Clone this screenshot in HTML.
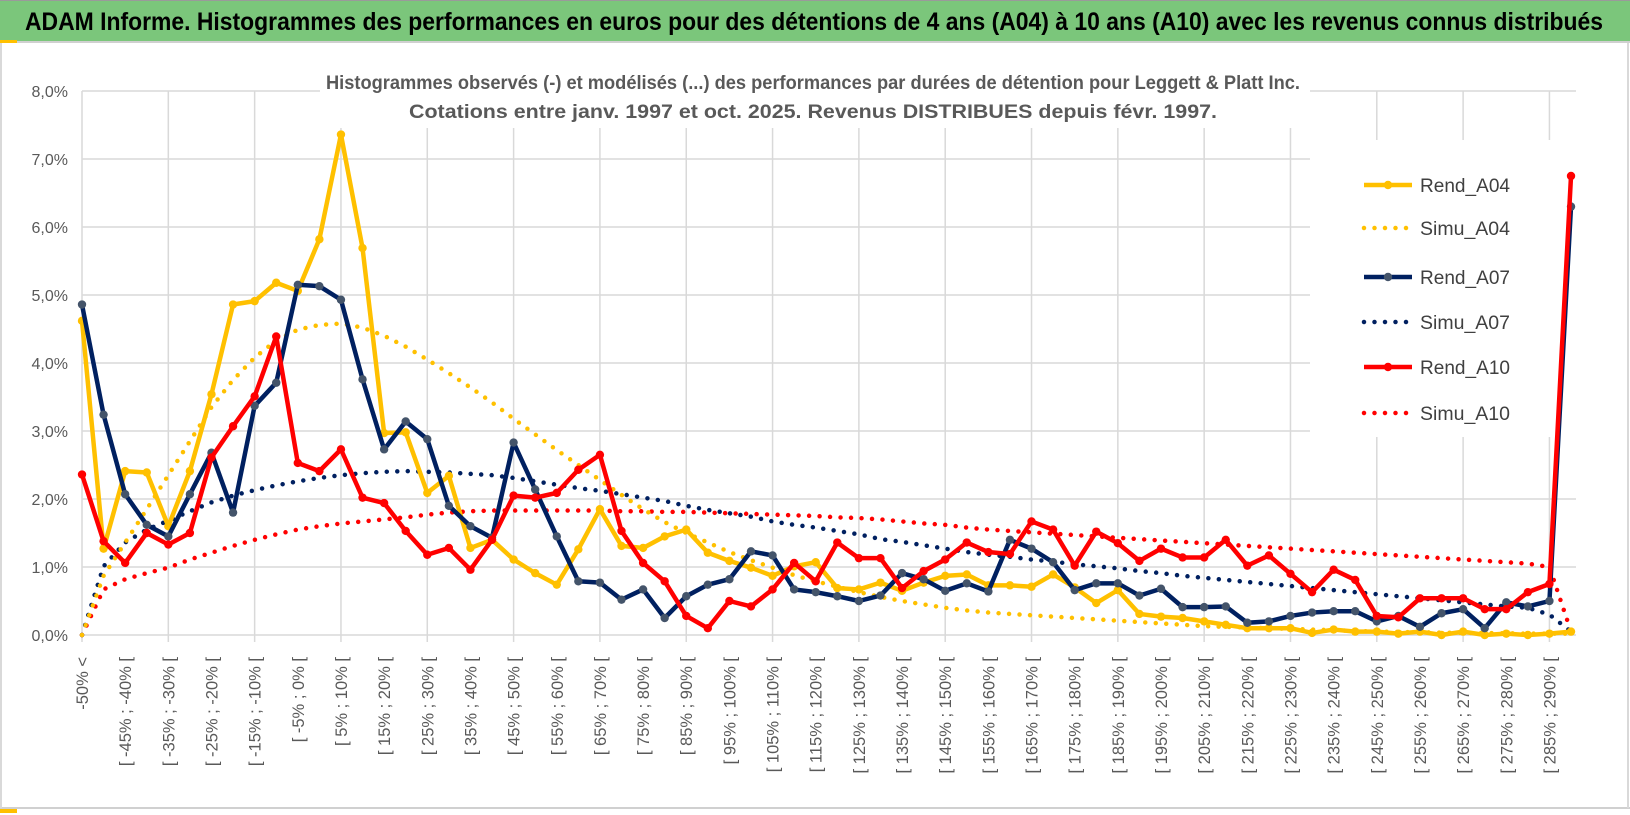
<!DOCTYPE html>
<html><head><meta charset="utf-8"><style>
html,body{margin:0;padding:0;background:#fff;}
svg{display:block;font-family:"Liberation Sans",sans-serif;}
</style></head><body>
<svg id="chart" width="1630" height="815" viewBox="0 0 1630 815" xmlns="http://www.w3.org/2000/svg">
<rect x="0" y="0" width="1630" height="815" fill="#fff"/>
<rect x="0" y="0" width="1630" height="41" fill="#7bc67b"/>
<line x1="0" y1="0.5" x2="1630" y2="0.5" stroke="#9a9a9a"/>
<line x1="0" y1="42" x2="1630" y2="42" stroke="#d0d0d0" stroke-width="2"/>
<rect x="0" y="40" width="17" height="3" fill="#ffc000"/>
<rect x="0" y="808" width="17" height="5" fill="#ffc000"/>
<line x1="0" y1="808" x2="1630" y2="808" stroke="#d0d0d0" stroke-width="2"/>
<line x1="1" y1="43" x2="1" y2="808" stroke="#d9d9d9" stroke-width="2"/>
<line x1="1628" y1="43" x2="1628" y2="808" stroke="#d9d9d9" stroke-width="2"/>
<text x="25" y="30" font-size="25" font-weight="bold" fill="#000" textLength="1578" lengthAdjust="spacingAndGlyphs">ADAM Informe. Histogrammes des performances en euros pour des détentions de 4 ans (A04) à 10 ans (A10) avec les revenus connus distribués</text>
<g id="grid"></g>
<rect x="320" y="55" width="990" height="73" fill="#fff"/>
<rect x="1310" y="140" width="300" height="297" fill="#fff"/>
<text x="813" y="89" font-size="19" font-weight="bold" fill="#595959" text-anchor="middle" textLength="974" lengthAdjust="spacingAndGlyphs">Histogrammes observés (-) et modélisés (...) des performances par durées de détention pour Leggett &amp; Platt Inc.</text>
<text x="813" y="118" font-size="19" font-weight="bold" fill="#595959" text-anchor="middle" textLength="808" lengthAdjust="spacingAndGlyphs">Cotations entre janv. 1997 et oct. 2025. Revenus DISTRIBUES depuis févr. 1997.</text>
<g id="axes"></g>
<g id="series"></g>
<g id="legend"></g>
</svg>
<script>
const categories = ["-50% <"];
for (let k = 1; k < 70; k++) { categories.push("[ " + (-55 + 5 * k) + "% ; " + (-50 + 5 * k) + "% ["); }
const yTicks = [0,1,2,3,4,5,6,7,8];
const yTickLabels = ["0,0%","1,0%","2,0%","3,0%","4,0%","5,0%","6,0%","7,0%","8,0%"];
const rendA04 = [4.62,1.27,2.41,2.39,1.60,2.41,3.54,4.86,4.91,5.18,5.06,5.82,7.36,5.69,2.97,2.98,2.09,2.34,1.28,1.40,
1.11,0.91,0.74,1.26,1.85,1.31,1.28,1.45,1.55,1.21,1.09,0.99,0.87,1.01,1.07,0.69,0.67,0.77,0.65,0.77,0.87,0.89,
0.73,0.73,0.71,0.89,0.70,0.47,0.66,0.31,0.27,0.25,0.2,0.15,0.1,0.1,0.1,0.03,0.08,0.05,0.05,0.02,0.05,0.0,0.05,0.0,0.02,0.0,0.02,0.05];
const rendA07 = [4.86,3.24,2.07,1.62,1.45,2.07,2.68,1.80,3.37,3.71,5.15,5.13,4.93,3.76,2.73,3.14,2.88,1.90,1.60,1.43,
2.83,2.14,1.45,0.79,0.77,0.52,0.67,0.25,0.57,0.74,0.82,1.23,1.17,0.67,0.63,0.57,0.50,0.58,0.91,0.82,0.65,0.76,
0.64,1.40,1.27,1.07,0.66,0.76,0.76,0.58,0.68,0.41,0.41,0.42,0.18,0.2,0.28,0.33,0.35,0.35,0.2,0.28,0.12,0.32,0.38,0.1,0.48,0.42,0.5,6.3];
const rendA10 = [2.36,1.38,1.06,1.50,1.33,1.50,2.61,3.07,3.51,4.39,2.53,2.41,2.73,2.02,1.94,1.53,1.18,1.28,0.96,1.40,
2.05,2.02,2.09,2.43,2.65,1.53,1.06,0.79,0.28,0.10,0.50,0.42,0.67,1.06,0.79,1.36,1.13,1.13,0.69,0.94,1.11,1.36,
1.22,1.19,1.67,1.55,1.02,1.52,1.35,1.09,1.27,1.14,1.14,1.40,1.02,1.17,0.90,0.63,0.96,0.81,0.28,0.26,0.54,0.54,0.54,0.38,0.38,0.63,0.75,6.75];
const simuA04 = [0,0.87,1.36,1.85,2.35,2.85,3.35,3.75,4.08,4.33,4.49,4.56,4.58,4.52,4.40,4.24,4.05,3.85,3.64,3.42,
3.18,2.95,2.72,2.50,2.28,2.06,1.85,1.66,1.50,1.36,1.22,1.10,0.99,0.88,0.79,0.71,0.63,0.56,0.50,0.45,0.40,0.36,
0.33,0.31,0.29,0.27,0.25,0.23,0.21,0.19,0.17,0.15,0.13,0.12,0.11,0.10,0.09,0.08,0.07,0.06,0.05,0.045,0.04,0.035,0.03,0.03,0.025,0.02,0.02,0.02];
const simuA07 = [0,1.01,1.36,1.55,1.68,1.82,1.95,2.05,2.13,2.20,2.26,2.31,2.35,2.38,2.40,2.41,2.40,2.39,2.37,2.35,
2.31,2.26,2.21,2.16,2.12,2.07,2.02,1.97,1.90,1.84,1.79,1.74,1.67,1.62,1.58,1.53,1.48,1.41,1.37,1.32,1.27,1.22,
1.18,1.15,1.11,1.08,1.04,1.01,0.98,0.94,0.91,0.87,0.84,0.81,0.78,0.75,0.72,0.69,0.66,0.63,0.60,0.57,0.54,0.51,0.48,0.45,0.42,0.40,0.30,0.05];
const simuA10 = [0,0.67,0.82,0.91,0.99,1.11,1.21,1.31,1.40,1.48,1.55,1.60,1.64,1.67,1.70,1.73,1.77,1.80,1.82,1.83,
1.83,1.83,1.83,1.83,1.83,1.82,1.82,1.81,1.81,1.80,1.79,1.78,1.77,1.76,1.75,1.73,1.72,1.70,1.67,1.64,1.62,1.58,
1.55,1.53,1.51,1.49,1.47,1.45,1.43,1.41,1.39,1.37,1.35,1.33,1.31,1.29,1.27,1.25,1.23,1.21,1.19,1.17,1.15,1.13,1.11,1.09,1.07,1.05,1.00,0.05];
const seriesNames = ["Rend_A04","Simu_A04","Rend_A07","Simu_A07","Rend_A10","Simu_A10"];

const NS = "http://www.w3.org/2000/svg";
const X0 = 82, STEP = 21.58, Y0 = 635, PPU = 68, XR = 1576;
function xs(i){ return X0 + STEP * i; }
function ys(v){ return Y0 - PPU * v; }
function mk(tag, attrs, parent){ const e = document.createElementNS(NS, tag); for (const k in attrs) e.setAttribute(k, attrs[k]); parent.appendChild(e); return e; }

const grid = document.getElementById("grid");
yTicks.forEach(function(t){
  const l = mk("line", {x1: X0, x2: XR, y1: ys(t), y2: ys(t), stroke: "#d9d9d9", "stroke-width": 1.5}, grid);
  
  
});
for (let i = 0; i < categories.length; i += 4) {
  const l = mk("line", {x1: xs(i), x2: xs(i), y1: ys(8), y2: Y0 + 7, stroke: "#d9d9d9", "stroke-width": 1.5}, grid);
  
  
}

const axes = document.getElementById("axes");
yTicks.forEach(function(t, k){
  const tx = mk("text", {x: 68, y: ys(t) + 6, "font-size": 16, fill: "#595959", "text-anchor": "end"}, axes);
  tx.textContent = yTickLabels[k];
  
  
});
for (let i = 0; i < categories.length; i += 2) {
  const tx = mk("text", {x: 0, y: 0, "font-size": 16.5, fill: "#595959", "text-anchor": "end",
    transform: "translate(" + (xs(i) + 6) + ",657) rotate(-90)"}, axes);
  tx.textContent = categories[i];
  
  
}

const seriesG = document.getElementById("series");
function dotted(vals, color, name){
  const p = mk("polyline", {points: vals.map(function(v,i){ return xs(i)+","+ys(v); }).join(" "), fill: "none",
    stroke: color, "stroke-width": 4.5, "stroke-linecap": "round", "stroke-dasharray": "0 10.5"}, seriesG);
  
  
}
function solid(vals, color, mcolor, name){
  const g = mk("g", {}, seriesG);
  
  
  mk("polyline", {points: vals.map(function(v,i){ return xs(i)+","+ys(v); }).join(" "), fill: "none",
    stroke: color, "stroke-width": 4.5, "stroke-linejoin": "round"}, g);
  vals.forEach(function(v,i){
    const c = mk("circle", {cx: xs(i), cy: ys(v), r: 4.2, fill: mcolor}, g);
    
    
  });
}
dotted(simuA10, "#ff0000", "simu-a10-line");
dotted(simuA07, "#002060", "simu-a07-line");
dotted(simuA04, "#ffc000", "simu-a04-line");
solid(rendA04, "#ffc000", "#ffc000", "rend-a04-line");
solid(rendA07, "#002060", "#44546a", "rend-a07-line");
solid(rendA10, "#ff0000", "#ff0000", "rend-a10-line");

const legend = document.getElementById("legend");
const legColors = ["#ffc000","#ffc000","#002060","#002060","#ff0000","#ff0000"];
const legY = [185,228,277,322,367,413];
seriesNames.forEach(function(n, k){
  const g = mk("g", {}, legend);
  
  
  const isSimu = n.indexOf("Simu") === 0;
  const ln = mk("line", {x1: 1364, x2: 1412, y1: legY[k], y2: legY[k], stroke: legColors[k], "stroke-width": 4.5,
    "stroke-linecap": isSimu ? "round" : "butt", "stroke-dasharray": isSimu ? "0 10.5" : "none"}, g);
  if (!isSimu) mk("circle", {cx: 1388, cy: legY[k], r: 4.2, fill: k === 2 ? "#44546a" : legColors[k]}, g);
  const t = mk("text", {x: 1420, y: legY[k] + 7, "font-size": 19, fill: "#404040", textLength: 90, lengthAdjust: "spacingAndGlyphs"}, g);
  t.textContent = n;
});
</script>
</body></html>
